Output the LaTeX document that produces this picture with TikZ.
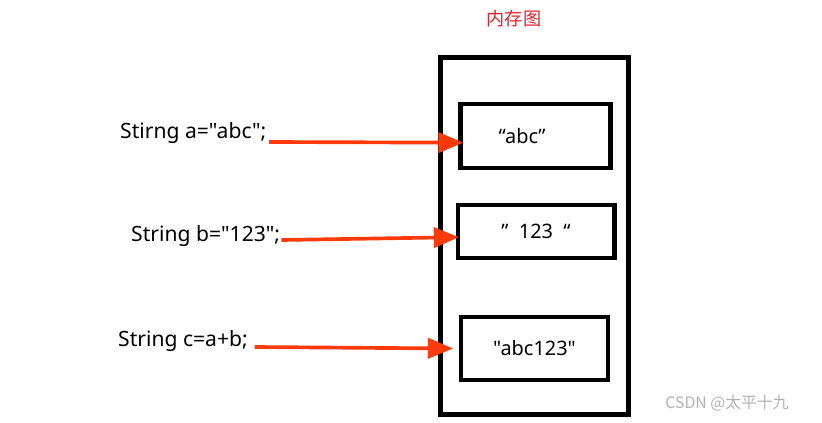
\documentclass[tikz,border=0pt]{standalone}
\usepackage{fontspec}
\setmainfont{Noto Sans}[Ligatures=TeXOff]
\newfontfamily\cjk{Noto Sans CJK SC}
\usepackage{xcolor}
\usetikzlibrary{arrows.meta,positioning}

\definecolor{ptrred}{HTML}{FF3A0A}
\definecolor{titlered}{HTML}{E8202A}

\begin{document}
\begin{tikzpicture}[
  x=0.03cm, y=-0.03cm,
  code/.style={font=\fontsize{18}{20}\selectfont, inner sep=0pt, anchor=west},
  cell/.style={rectangle,draw,line width=1.3mm,minimum width=4.5cm,minimum height=1.9cm,font=\fontsize{17}{19}\selectfont},
  ptr/.style={-{Triangle[length=7.5mm,width=6mm]},line width=1.1mm,ptrred},
]
\useasboundingbox (0,0) rectangle (822,422);

% Memory
\node[font=\cjk\fontsize{15.5}{17}\selectfont,titlered] (title) at (514,19) {内存图};
\draw[line width=1.4mm] (440.5,57.5) rectangle (628.5,414.5);
\node[cell,minimum width=4.5cm,minimum height=1.9cm,text width=3.6cm,align=center] (boxa) at (535.5,136) {\hspace*{-0.8cm}“abc”};
\node[cell,minimum width=4.7cm,minimum height=1.58cm] (boxb) at (536,231.5) {”\ \ 123\ \ “};
\node[cell,minimum width=4.4cm,minimum height=1.9cm] (boxc) at (534.5,348.5) {"abc123"};

% Code lines
\node[code] (codea) at (120,133) {Stirng a="abc";};
\node[code] (codeb) at (131,236) {String b="123";};
\node[code] (codec) at (118,341) {String c=a+b;};

% Pointers
\draw[ptr] ([xshift=0.08cm,yshift=-0.27cm]codea.east) -- ([xshift=0.15cm,yshift=-0.2cm]boxa.west);
\draw[ptr] ([xshift=0.03cm,yshift=-0.12cm]codeb.east) -- ([xshift=0.1cm,yshift=-0.17cm]boxb.west);
\draw[ptr] ([xshift=0.2cm,yshift=-0.18cm]codec.east) -- ([xshift=-0.18cm]boxc.west);

% Watermark
\node[font=\cjk\fontsize{13.5}{15}\selectfont,gray!60] (mark) at (727,403) {CSDN @太平十九};
\end{tikzpicture}
\end{document}
